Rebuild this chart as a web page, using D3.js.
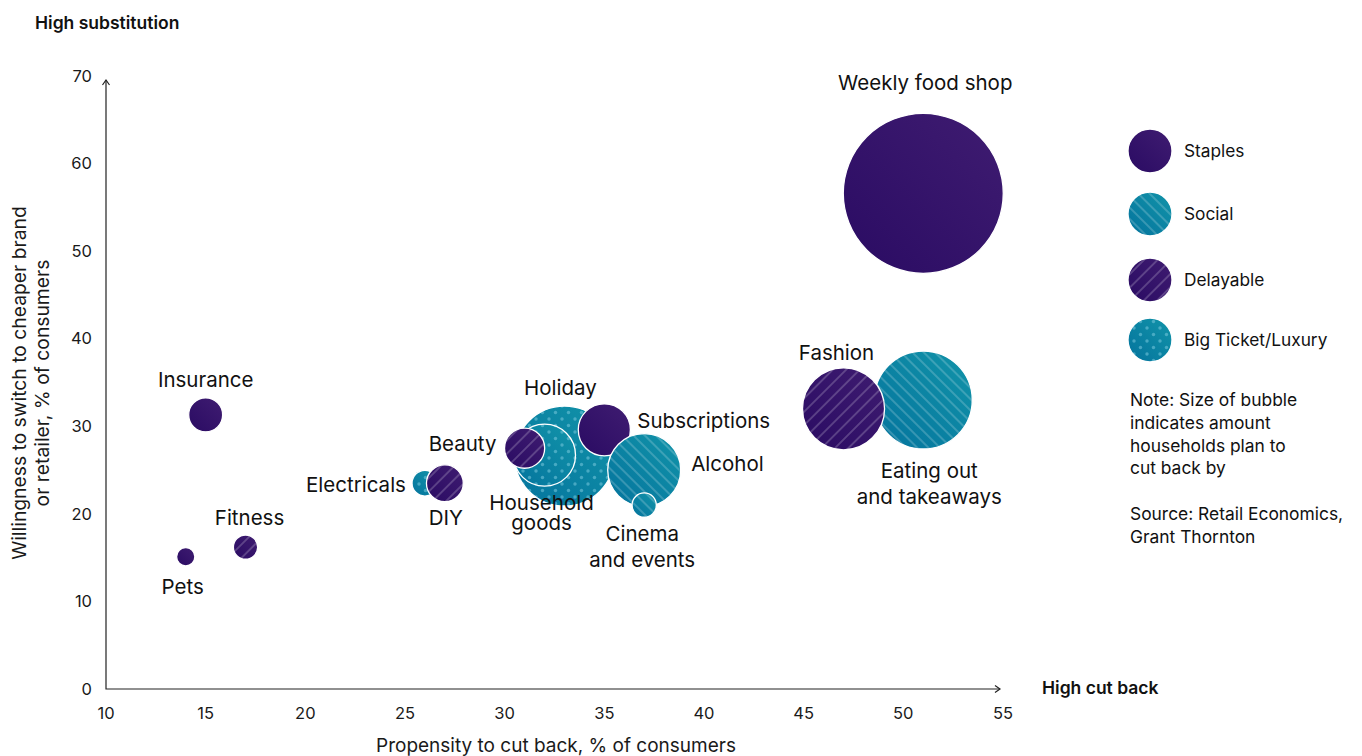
<!DOCTYPE html>
<html>
<head>
<meta charset="utf-8">
<script src="https://cdn.jsdelivr.net/npm/d3@7"></script>
<style>
  html, body { margin: 0; padding: 0; background: #fff; }
  svg { display: block; font-family: Inter, "Noto Sans", sans-serif; }
</style>
</head>
<body>
<svg id="chart" width="1362" height="756"></svg>
<script>
// Categories plotted as bubbles, in drawing order (later ones sit on top)
const categories = ["Weekly food shop", "Eating out and takeaways", "Fashion", "Holiday", "Household goods",
  "Beauty", "Subscriptions", "Alcohol", "Cinema and events", "Insurance", "Pets", "Fitness", "Electricals", "DIY"];
// Propensity to cut back, % of consumers
const cutBack = [51, 51, 47, 33, 32, 31, 35, 37, 37, 15, 14, 17, 26, 27];
// Willingness to switch to cheaper brand or retailer, % of consumers
const switching = [56.6, 33, 32, 26.6, 26.7, 27.5, 29.6, 25, 21, 31.3, 15.1, 16.2, 23.5, 23.5];
// Relative amount households plan to cut back by (bubble area)
const cutAmount = [100, 37.5, 26.3, 39, 15, 6.3, 10.6, 20.8, 2.3, 4.5, 1.3, 2.3, 2.6, 5.3];
// Spending group of each category
const groups = ["Staples", "Social", "Delayable", "Big Ticket/Luxury", "Big Ticket/Luxury",
  "Delayable", "Staples", "Social", "Social", "Staples", "Staples", "Delayable", "Big Ticket/Luxury", "Delayable"];

const groupNames = ["Staples", "Social", "Delayable", "Big Ticket/Luxury"];
const xTicks = [10, 15, 20, 25, 30, 35, 40, 45, 50, 55];
const yTicks = [0, 10, 20, 30, 40, 50, 60, 70];

// Label text lines, anchor, offset relative to each bubble centre and line spacing
const labelLines = [["Weekly food shop"], ["Eating out", "and takeaways"], ["Fashion"], ["Holiday"], ["Household", "goods"],
  ["Beauty"], ["Subscriptions"], ["Alcohol"], ["Cinema", "and events"], ["Insurance"], ["Pets"], ["Fitness"], ["Electricals"], ["DIY"]];
const labelPos = [
  { a: "middle", dx: 2, dy: -111, lh: 26 }, { a: "middle", dx: 6, dy: 71, lh: 26 }, { a: "middle", dx: -7, dy: -56, lh: 26 },
  { a: "middle", dx: -4, dy: -68, lh: 26 }, { a: "middle", dx: -3, dy: 48, lh: 20 }, { a: "middle", dx: -62, dy: -4, lh: 26 },
  { a: "start", dx: 33, dy: -9, lh: 26 }, { a: "start", dx: 47, dy: -6, lh: 26 }, { a: "middle", dx: -2, dy: 29, lh: 26 },
  { a: "middle", dx: 0, dy: -35, lh: 26 }, { a: "middle", dx: -3, dy: 30, lh: 26 }, { a: "middle", dx: 4, dy: -29, lh: 26 },
  { a: "end", dx: -19, dy: 2, lh: 26 }, { a: "middle", dx: 1, dy: 35, lh: 26 }
];

const svg = d3.select("#chart");
const x = d3.scaleLinear().domain([10, 55]).range([106, 1003]);
const y = d3.scaleLinear().domain([0, 70]).range([689, 76]);
const r = d3.scaleSqrt().domain([0, 100]).range([0, 80]);

const defs = svg.append("defs");
function gradient(id, c0, c1) {
  const g = defs.append("linearGradient").attr("id", id)
    .attr("x1", 0).attr("y1", 1).attr("x2", 1).attr("y2", 0);
  g.append("stop").attr("offset", 0).attr("stop-color", c0);
  g.append("stop").attr("offset", 1).attr("stop-color", c1);
}
gradient("gPurple", "#2a0b63", "#3f1c71");
gradient("gTeal", "#04739d", "#1294a9");

function hatch(id, angle, gap) {
  const p = defs.append("pattern").attr("id", id).attr("patternUnits", "userSpaceOnUse")
    .attr("width", gap).attr("height", gap).attr("patternTransform", `rotate(${angle})`);
  p.append("line").attr("x1", gap / 2).attr("x2", gap / 2).attr("y1", 0).attr("y2", gap)
    .attr("stroke", "rgba(255,255,255,0.38)").attr("stroke-width", 1);
}
hatch("hSocial", -45, 8);
hatch("hDelay", 45, 9.5);
const dots = defs.append("pattern").attr("id", "pDots").attr("patternUnits", "userSpaceOnUse")
  .attr("width", 13).attr("height", 13);
dots.append("circle").attr("cx", 3).attr("cy", 3).attr("r", 1.7).attr("fill", "rgba(120,200,220,0.55)");
dots.append("circle").attr("cx", 9.5).attr("cy", 9.5).attr("r", 1.7).attr("fill", "rgba(120,200,220,0.55)");

const style = {
  "Staples": { base: "url(#gPurple)", over: null },
  "Social": { base: "url(#gTeal)", over: "url(#hSocial)" },
  "Delayable": { base: "url(#gPurple)", over: "url(#hDelay)" },
  "Big Ticket/Luxury": { base: "url(#gTeal)", over: "url(#pDots)" }
};

function bubble(sel, cx, cy, rad, grp) {
  const g = sel.append("g");
  g.append("circle").attr("cx", cx).attr("cy", cy).attr("r", rad).attr("fill", style[grp].base);
  if (style[grp].over) g.append("circle").attr("cx", cx).attr("cy", cy).attr("r", rad).attr("fill", style[grp].over);
  g.append("circle").attr("cx", cx).attr("cy", cy).attr("r", rad)
    .attr("fill", "none").attr("stroke", "#fff").attr("stroke-width", 1.3);
}

// Axes drawn as plain lines with arrowheads
const axis = svg.append("g").attr("stroke", "#222").attr("stroke-width", 1.2).attr("fill", "none");
axis.append("path").attr("d", `M${x(10)},${y(70) + 4}V${y(0)}H${x(55) - 3}`);
axis.append("path").attr("d", `M${x(10) - 3.5},${y(70) + 9}L${x(10)},${y(70) + 4}L${x(10) + 3.5},${y(70) + 9}`);
axis.append("path").attr("d", `M${x(55) - 8},${y(0) - 3.5}L${x(55) - 3},${y(0)}L${x(55) - 8},${y(0) + 3.5}`);

svg.append("g").selectAll("text").data(xTicks).join("text")
  .attr("x", d => x(d)).attr("y", 719).attr("text-anchor", "middle")
  .attr("font-size", 16.5).attr("fill", "#1a1a1a").text(d => d);
svg.append("g").selectAll("text").data(yTicks).join("text")
  .attr("x", 92).attr("y", d => y(d)).attr("dy", "0.35em").attr("text-anchor", "end")
  .attr("font-size", 16.5).attr("fill", "#1a1a1a").text(d => d);

svg.append("text").attr("x", 556).attr("y", 752).attr("text-anchor", "middle")
  .attr("font-size", 19).attr("fill", "#1a1a1a").text("Propensity to cut back, % of consumers");
const yTitle = svg.append("text").attr("transform", "translate(0,383) rotate(-90)")
  .attr("text-anchor", "middle").attr("font-size", 19.3).attr("fill", "#1a1a1a");
yTitle.append("tspan").attr("x", 0).attr("y", 26).text("Willingness to switch to cheaper brand");
yTitle.append("tspan").attr("x", 0).attr("y", 49).text("or retailer, % of consumers");

svg.append("text").attr("x", 35).attr("y", 29).attr("font-size", 17.5).attr("font-weight", 600)
  .attr("fill", "#111").text("High substitution");
svg.append("text").attr("x", 1042).attr("y", 694).attr("font-size", 17.5).attr("font-weight", 600)
  .attr("fill", "#111").text("High cut back");

// Bubbles
const bubbles = svg.append("g");
categories.forEach((c, i) => bubble(bubbles, x(cutBack[i]), y(switching[i]), r(cutAmount[i]), groups[i]));

// Bubble labels
const labels = svg.append("g").attr("font-size", 20.5).attr("fill", "#111");
categories.forEach((c, i) => {
  const p = labelPos[i];
  const t = labels.append("text").attr("text-anchor", p.a);
  labelLines[i].forEach((line, j) => {
    t.append("tspan").attr("x", x(cutBack[i]) + p.dx)
      .attr("y", y(switching[i]) + p.dy + j * p.lh).attr("dy", "0.35em").text(line);
  });
});

// Legend
const legend = svg.append("g");
const legendY = [151, 214, 280, 340];
groupNames.forEach((gName, i) => {
  bubble(legend, 1150, legendY[i], 22, gName);
  legend.append("text").attr("x", 1184).attr("y", legendY[i]).attr("dy", "0.35em")
    .attr("font-size", 17.3).attr("fill", "#111").text(gName);
});

const noteLines = ["Note: Size of bubble", "indicates amount", "households plan to", "cut back by", "",
  "Source: Retail Economics,", "Grant Thornton"];
svg.append("g").selectAll("text").data(noteLines).join("text")
  .attr("x", 1130).attr("y", (d, i) => 400 + i * 22.8).attr("dy", "0.35em")
  .attr("font-size", 17.4).attr("fill", "#111").text(d => d);
</script>
</body>
</html>
